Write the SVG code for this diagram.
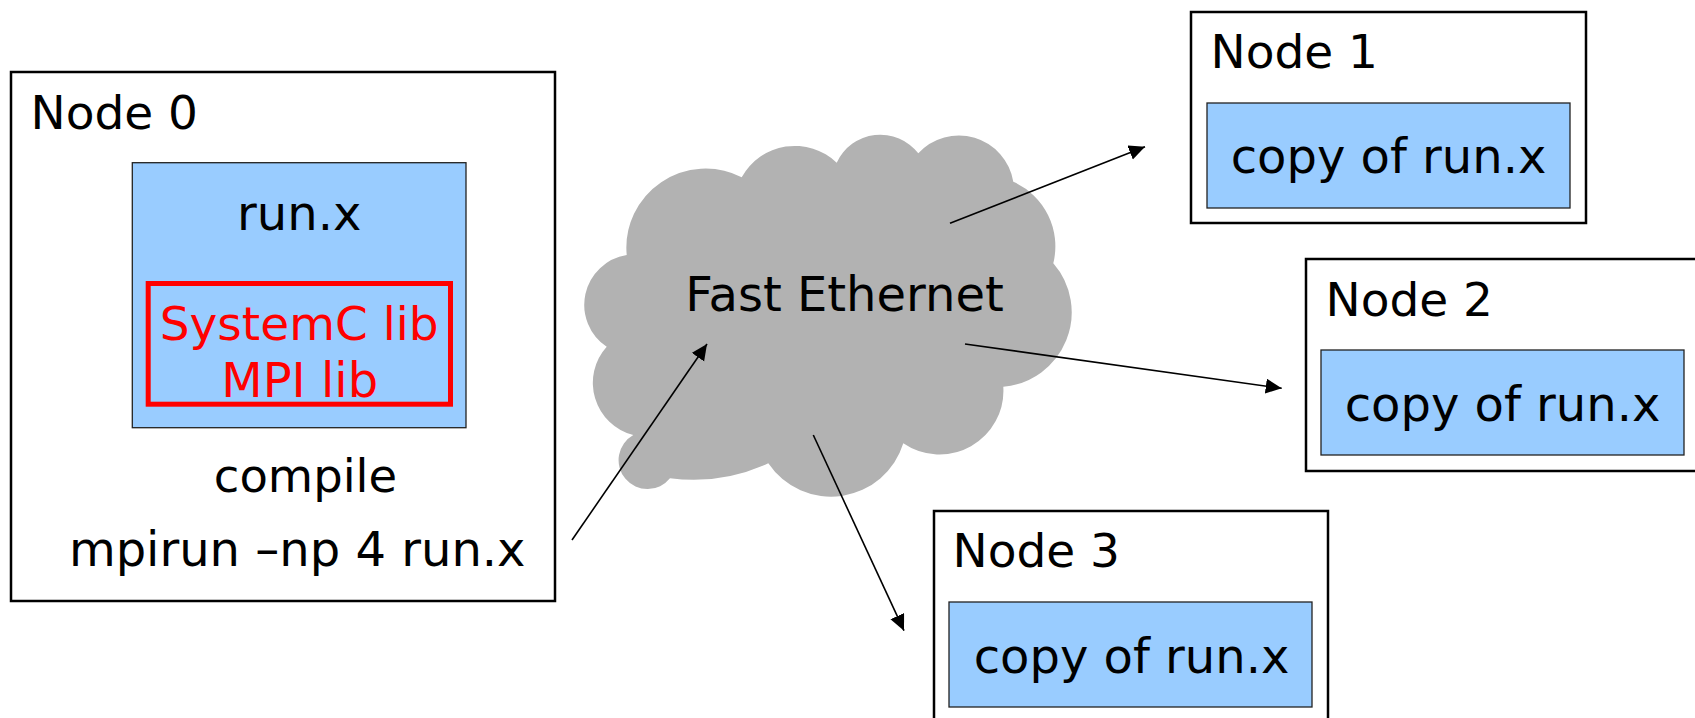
<svg xmlns="http://www.w3.org/2000/svg" width="1695" height="718" viewBox="0 0 1695 718">
  <style>
    .frame { fill: #ffffff; stroke: #000000; stroke-width: 2.5; }
    .prog { fill: #99ccff; stroke: #222222; stroke-width: 1.3; }
    .libs { fill: none; stroke: #ff0000; stroke-width: 5; }
    .cloud { fill: #b2b2b2; stroke: none; }
    text { font-family: "DejaVu Sans", Verdana, sans-serif; font-size: 48px; fill: #000000; }
    .title { font-size: 47px; }
    .mid { text-anchor: middle; }
    .red { fill: #ff0000; }
    .link { fill: none; stroke: #000000; stroke-width: 1.6; marker-end: url(#arrow); }
  </style>
  <defs>
    <marker id="arrow" markerUnits="userSpaceOnUse" markerWidth="18" markerHeight="16" refX="16" refY="7.5" orient="auto">
      <path d="M0,0 L16,7.5 L0,15 z" fill="#000000"/>
    </marker>
  </defs>

  <rect width="1695" height="718" fill="#ffffff"/>

  <!-- network cloud: one arc per bump, running clockwise from the upper-left notch -->
  <g id="ethernet">
    <path class="cloud" d="M626.7,255 A79.2,79.2 0 0 1 741.7,177.3 A60.6,60.6 0 0 1 836.7,162.7 A48,48 0 0 1 918.3,153.3 A55.2,55.2 0 0 1 1013.3,181.7 A70.7,70.7 0 0 1 1053.3,263.3 A74.6,74.6 0 0 1 1003.3,386.7 A63.9,63.9 0 0 1 903.3,443.3 A75.6,75.6 0 0 1 768.3,463.3 A180,180 0 0 1 670,478.3 A28.9,28.9 0 1 1 633.3,435 A53.9,53.9 0 0 1 606.7,346.7 A50.4,50.4 0 0 1 626.7,255 z"/>
    <text class="mid" x="844.5" y="310.7">Fast Ethernet</text>
  </g>

  <!-- master node -->
  <g id="node0">
    <rect class="frame" x="11" y="72" width="544" height="529"/>
    <text class="title" x="30.5" y="129">Node 0</text>
    <rect class="prog" x="132.3" y="162.7" width="333.7" height="265"/>
    <text class="mid" x="299.2" y="230">run.x</text>
    <rect class="libs" x="148.2" y="283.5" width="302.3" height="120.7"/>
    <text class="mid red" x="299.2" y="340" style="font-size:47px">SystemC lib</text>
    <text class="mid red" x="299.7" y="397.3">MPI lib</text>
    <text class="mid" x="305.5" y="491.7" style="font-size:46.5px">compile</text>
    <text class="mid" x="297.2" y="565.7">mpirun –np 4 run.x</text>
  </g>

  <g id="node1">
    <rect class="frame" x="1191" y="12" width="395" height="211"/>
    <text class="title" x="1210.5" y="68">Node 1</text>
    <rect class="prog" x="1207" y="103" width="363" height="105"/>
    <text class="mid" x="1388.5" y="173">copy of run.x</text>
  </g>

  <g id="node2">
    <rect class="frame" x="1306" y="259" width="400" height="212"/>
    <text class="title" x="1325.5" y="316">Node 2</text>
    <rect class="prog" x="1321" y="350" width="363" height="105"/>
    <text class="mid" x="1502.5" y="421">copy of run.x</text>
  </g>

  <g id="node3">
    <rect class="frame" x="934" y="511" width="394" height="220"/>
    <text class="title" x="952.5" y="567">Node 3</text>
    <rect class="prog" x="949" y="602" width="363" height="105"/>
    <text class="mid" x="1131.5" y="673">copy of run.x</text>
  </g>

  <!-- connectors -->
  <g id="links">
    <line class="link" x1="572" y1="540" x2="707" y2="344"/>
    <line class="link" x1="950" y1="223.3" x2="1145" y2="146.7"/>
    <line class="link" x1="965" y1="344" x2="1281.7" y2="388.3"/>
    <line class="link" x1="813.3" y1="435" x2="904" y2="630.7"/>
  </g>
</svg>
